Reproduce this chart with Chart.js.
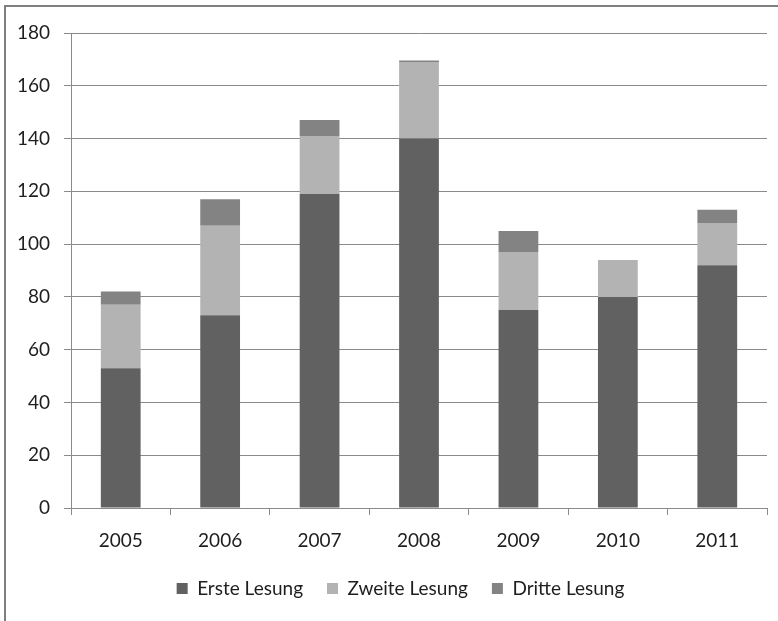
<!DOCTYPE html>
<html>
<head>
<meta charset="utf-8">
<script src="https://cdn.jsdelivr.net/npm/chart.js@4/dist/chart.umd.min.js"></script>
<style>
  html, body { margin: 0; padding: 0; background: #fff; }
  #wrap { position: relative; width: 778px; height: 621px; overflow: hidden; }
  #frame { position: absolute; left: 4px; top: 5px; width: 800px; height: 700px;
           border-left: 2px solid #7f7f7f; border-top: 2px solid #7f7f7f; box-sizing: border-box; }
  canvas { position: absolute; left: 0; top: 0; }
</style>
</head>
<body>
<div id="wrap">
  <div id="frame"></div>
  <canvas id="c" width="778" height="621"></canvas>
</div>
<script>
// Anzahl der Lesungen pro Jahr
const years = ['2005', '2006', '2007', '2008', '2009', '2010', '2011'];
const ersteLesung  = [53, 73, 119, 140, 75, 80, 92];
const zweiteLesung = [24, 34, 22, 29, 22, 14, 16];
const dritteLesung = [5, 10, 6, 0.6, 8, 0, 5];
const yTicks = [0, 20, 40, 60, 80, 100, 120, 140, 160, 180];

const FONT = 'Lato, "Liberation Sans", sans-serif';
const gridColor = '#8a8a8a';

// centre the legend row under the plot area rather than the whole canvas
const legendShift = {
  id: 'legendShift',
  afterLayout(chart) {
    const lg = chart.legend;
    if (lg) { lg.left += 17; lg.right += 17; }
  }
};

new Chart(document.getElementById('c'), {
  type: 'bar',
  data: {
    labels: years,
    datasets: [
      { label: 'Erste Lesung',  data: ersteLesung,  backgroundColor: '#616161' },
      { label: 'Zweite Lesung', data: zweiteLesung, backgroundColor: '#b3b3b3' },
      { label: 'Dritte Lesung', data: dritteLesung, backgroundColor: '#838383' }
    ]
  },
  plugins: [legendShift],
  options: {
    responsive: false,
    animation: false,
    layout: { padding: { top: 33, right: 11, bottom: 13, left: 0 } },
    datasets: { bar: { categoryPercentage: 0.4, barPercentage: 1.0 } },
    plugins: {
      tooltip: { enabled: false },
      legend: {
        position: 'bottom',
        labels: {
          font: { family: FONT, size: 19 },
          color: '#1e1e1e',
          boxWidth: 11,
          boxHeight: 11,
          padding: 24
        }
      }
    },
    scales: {
      x: {
        stacked: true,
        afterFit: (axis) => { axis.height = 47; },
        grid: { display: true, drawOnChartArea: false, offset: true, tickLength: 7, color: gridColor },
        border: { color: gridColor, width: 1 },
        ticks: { font: { family: FONT, size: 19 }, color: '#1e1e1e', padding: 14 }
      },
      y: {
        stacked: true,
        min: 0,
        max: 180,
        afterFit: (axis) => { axis.width = 71; },
        afterBuildTicks: (axis) => { axis.ticks = yTicks.map(v => ({ value: v })); },
        grid: { color: gridColor, tickLength: 7, lineWidth: 1 },
        border: { color: gridColor, width: 1 },
        ticks: { font: { family: FONT, size: 19 }, color: '#1e1e1e', padding: 14 }
      }
    }
  }
});
</script>
</body>
</html>
